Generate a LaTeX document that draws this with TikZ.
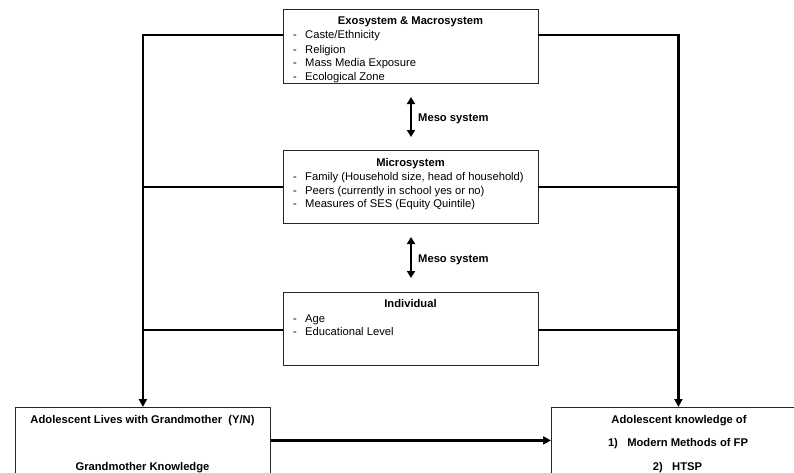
\documentclass[tikz,border=0pt]{standalone}
\usepackage{fontspec}
\setmainfont{Liberation Sans}
\usetikzlibrary{arrows.meta}
\newcommand{\dashitem}{\makebox[12pt][l]{-}}
\begin{document}
\begin{tikzpicture}[x=1pt,y=-1pt,
  box/.style={draw=black!85, line width=0.8pt, rectangle, inner sep=0pt, minimum width=255pt},
  txt/.style={inner sep=0pt, font=\fontsize{11.2}{13}\selectfont},
  btxt/.style={inner sep=0pt, font=\fontsize{11.2}{13}\selectfont\bfseries},
  conn/.style={line width=2.3pt},
  arr/.style={line width=2.3pt, -{Triangle[length=8pt,width=8pt]}},
  darr/.style={line width=2.4pt, {Triangle[length=7pt,width=8pt]}-{Triangle[length=7pt,width=8pt]}}]
\useasboundingbox (0,0) rectangle (794,472);
\clip (0,0) rectangle (794,472);
\fill[white] (0,0) rectangle (794,472);

% boxes
\node[box, minimum height=74pt, anchor=north west] (exo) at (283,9) {};
\node[box, minimum height=73pt, anchor=north west] (micro) at (283,150) {};
\node[box, minimum height=73pt, anchor=north west] (indiv) at (283,292) {};
\node[box, minimum width=255pt, minimum height=66pt, anchor=north west] (lbox) at (15,407) {};
\node[box, minimum width=254pt, minimum height=66pt, anchor=north west] (rbox) at (551,407) {};

% exo text
\node[btxt, anchor=base] (exoT) at (410.5,24.5) {Exosystem \& Macrosystem};
\node[txt, anchor=base west] (exo1) at (293,38.8) {\dashitem Caste/Ethnicity};
\node[txt, anchor=base west] (exo2) at (293,53) {\dashitem Religion};
\node[txt, anchor=base west] (exo3) at (293,66.5) {\dashitem Mass Media Exposure};
\node[txt, anchor=base west] (exo4) at (293,80.5) {\dashitem Ecological Zone};

% micro text
\node[btxt, anchor=base] (microT) at (410.5,166.5) {Microsystem};
\node[txt, anchor=base west] (mic1) at (293,180.5) {\dashitem Family (Household size, head of household)};
\node[txt, anchor=base west] (mic2) at (293,194.8) {\dashitem Peers (currently in school yes or no)};
\node[txt, anchor=base west] (mic3) at (293,207.8) {\dashitem Measures of SES (Equity Quintile)};

% individual text
\node[btxt, anchor=base] (indT) at (410.5,307) {Individual};
\node[txt, anchor=base west] (ind1) at (293,322) {\dashitem Age};
\node[txt, anchor=base west] (ind2) at (293,335.5) {\dashitem Educational Level};

% bottom texts
\node[btxt, anchor=base] (lT1) at (142.5,423) {Adolescent Lives with Grandmother\ \ (Y/N)};
\node[btxt, anchor=base] (lT2) at (142.5,470.5) {Grandmother Knowledge};
\node[btxt, anchor=base] (rT1) at (679,423) {Adolescent knowledge of};
\node[btxt, anchor=base] (rT2) at (678,446.5) {1)\ \ \ Modern Methods of FP};
\node[btxt, anchor=base] (rT3) at (677.5,470.5) {2)\ \ \ HTSP};

% meso arrows
\coordinate (m1a) at (411,97);
\coordinate (m1b) at (411,137);
\coordinate (m2a) at (411,237);
\coordinate (m2b) at (411,278);
\draw[darr] (m1a) -- (m1b);
\draw[darr] (m2a) -- (m2b);
\node[btxt, anchor=base west] (meso1) at (418,121) {Meso system};
\node[btxt, anchor=base west] (meso2) at (418,262) {Meso system};

% side connectors
\coordinate (exoL) at (283,35);
\coordinate (exoR) at (538,35);
\coordinate (micL) at (283,187);
\coordinate (micR) at (538,187);
\coordinate (indL) at (283,330);
\coordinate (indR) at (538,330);
\draw[arr] (exoL) -| (lbox.north);
\draw[arr] (exoR) -| (rbox.north);
\draw[conn] (micL) -- (micL -| lbox.north);
\draw[conn] (micR) -- (micR -| rbox.north);
\draw[conn] (indL) -- (indL -| lbox.north);
\draw[conn] (indR) -- (indR -| rbox.north);
\draw[arr] (lbox.east) -- (rbox.west);
\end{tikzpicture}
\end{document}
